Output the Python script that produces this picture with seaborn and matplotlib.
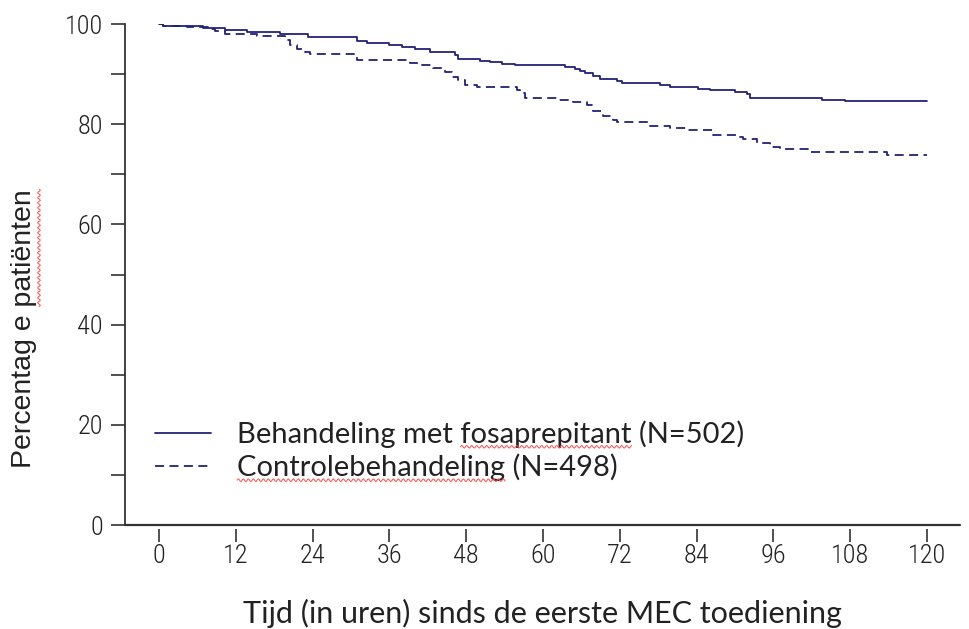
import numpy as np
import pandas as pd
import matplotlib
matplotlib.use('Agg')
import matplotlib.pyplot as plt
from matplotlib import font_manager as fm
from matplotlib.transforms import IdentityTransform
from matplotlib.lines import Line2D
import seaborn as sns

# ============================================
# DATA
# ============================================
fosa_hours = [0, 0.6, 6.9, 10.3, 13.7, 18.9, 23.3, 31, 32.5, 36, 38, 40, 42.3,
              46.3, 46.8, 50.2, 51.7, 53.6, 55.6, 63.4, 65, 65.8, 66.6, 67.8,
              68.9, 71.5, 72.3, 78.3, 79.8, 84.2, 86.1, 90, 91.9, 92.3, 103.6,
              107.2, 120]
fosa_pct = [100, 99.6, 99.3, 98.8, 98.5, 98.1, 97.5, 96.7, 96.3, 95.8, 95.5,
            95.1, 94.5, 93.8, 93.1, 92.7, 92.5, 92.0, 91.8, 91.5, 91.0, 90.6,
            90.2, 89.7, 89.0, 88.6, 88.2, 87.8, 87.4, 87.1, 86.8, 86.4, 86.1,
            85.3, 84.9, 84.6, 84.6]

ctrl_hours = [0, 0.6, 4.4, 7.7, 8.8, 10.3, 15.3, 19.7, 20.5, 21.6, 22.8, 23.6,
              31, 39.2, 41.1, 42.8, 44.7, 45.8, 46.7, 47.8, 49.7, 56, 56.4,
              57.2, 62.2, 64.7, 66.9, 67.8, 69.4, 70.9, 71.6, 76.7, 79.8, 82.5,
              86.6, 90.3, 91.3, 93.4, 95.5, 97, 101.4, 113.8, 120]
ctrl_pct = [100, 99.6, 99.4, 99.1, 98.6, 98.0, 97.6, 96.8, 95.9, 95.1, 94.5,
            94.0, 92.8, 92.3, 91.8, 91.2, 90.5, 89.5, 88.8, 87.8, 87.5, 86.8,
            86.2, 85.3, 84.8, 84.4, 83.8, 82.7, 81.6, 80.8, 80.4, 79.6, 79.2,
            78.8, 77.8, 77.5, 77.0, 76.2, 75.5, 75.0, 74.5, 73.9, 73.9]

labels = ['Behandeling met fosaprepitant (N=502)', 'Controlebehandeling (N=498)']
x_ticks = list(range(0, 121, 12))
y_major = [0, 20, 40, 60, 80, 100]
y_minor = [10, 30, 50, 70, 90]

NAVY = '#22227a'
CALIBRI = ['Lato', 'DejaVu Sans']

# pick a narrow font for the tick numbers if one is installed
installed = fm.fontManager.ttflist
names = {f.name for f in installed}
tick_font = None
for cand in ['Liberation Sans Narrow', 'Arial Narrow', 'Roboto Condensed',
             'Open Sans Condensed', 'Noto Sans Condensed']:
    if cand in names:
        tick_font = fm.FontProperties(family=cand, size=19, weight='light')
        break
if tick_font is None:
    cond = [f for f in installed if f.name == 'DejaVu Sans'
            and f.stretch == 'condensed' and f.style == 'normal']
    if cond:
        tick_font = fm.FontProperties(fname=cond[0].fname, size=19)
    else:
        tick_font = fm.FontProperties(family='Liberation Sans', size=17)

sns.set_style('ticks')

fig = plt.figure(figsize=(9.69, 6.29), dpi=100)
ax = fig.add_axes([0.129, 0.1653, 0.862, 0.7965])

df_f = pd.DataFrame({'hours': fosa_hours, 'pct': fosa_pct})
df_c = pd.DataFrame({'hours': ctrl_hours, 'pct': ctrl_pct})

sns.lineplot(data=df_f, x='hours', y='pct', ax=ax, color=NAVY, lw=1.3,
             drawstyle='steps-post', label=labels[0], estimator=None)
sns.lineplot(data=df_c, x='hours', y='pct', ax=ax, color=NAVY, lw=1.3,
             drawstyle='steps-post', label=labels[1], estimator=None,
             dashes=False, linestyle=(0, (5, 3)))

ax.set_xlim(-5.3, 125.2)
ax.set_ylim(0, 100)

# x ticks hang detached below the baseline
for side in ['top', 'right']:
    ax.spines[side].set_visible(False)
ax.spines['left'].set_linewidth(1.3)
ax.spines['left'].set_color('#333333')
ax.spines['bottom'].set_position(('outward', 3))
ax.spines['bottom'].set_visible(False)
ax.axhline(0, color='#333333', lw=1.6, clip_on=False, zorder=3)

ax.set_xticks(x_ticks)
ax.set_yticks(y_major)
ax.set_yticks(y_minor, minor=True)
ax.tick_params(axis='y', which='both', length=10, width=1.2, color='#333333', pad=6)
ax.tick_params(axis='x', length=9, width=1.2, color='#333333', pad=2)
for lab in ax.get_xticklabels() + ax.get_yticklabels():
    lab.set_fontproperties(tick_font)
    lab.set_color('#222222')

ax.set_xlabel('Tijd (in uren) sinds de eerste MEC toediening',
              family=CALIBRI, fontsize=22, color='#222222', labelpad=22)
ax.set_ylabel('Percentag e patiënten', family=['Liberation Sans', 'DejaVu Sans'],
              fontsize=20.5, color='#222222')
ax.yaxis.set_label_coords(-0.1054, 0.392)

leg = ax.legend(loc='lower left', bbox_to_anchor=(0.005, 0.035), frameon=False,
                prop={'family': CALIBRI, 'size': 21}, handlelength=1.9,
                handletextpad=0.9, labelspacing=0.2)
for t in leg.get_texts():
    t.set_color('#222222')

# spell-check squiggles under some words, as in the reference
fig.canvas.draw()
rend = fig.canvas.get_renderer()


def squiggle(txt, prefix, word, vertical=False):
    bb = txt.get_window_extent(rend)
    tmp = fig.text(0, 0, prefix, fontproperties=txt.get_fontproperties())
    w0 = tmp.get_window_extent(rend).width if prefix else 0
    tmp.set_text(prefix + word)
    w1 = tmp.get_window_extent(rend).width
    tmp.remove()
    n = int(w1 - w0)
    s = np.linspace(0, w1 - w0, max(n, 2))
    wave = 1.4 * np.sin(s * np.pi / 2.5)
    if vertical:
        xs = bb.x1 + 2 + wave
        ys = bb.y0 + w0 + s
    else:
        xs = bb.x0 + w0 + s
        ys = bb.y0 + 1 + wave
    fig.add_artist(Line2D(xs, ys, transform=IdentityTransform(),
                          color='#ff4d4d', lw=0.7))


texts = leg.get_texts()
squiggle(texts[0], 'Behandeling met ', 'fosaprepitant')
squiggle(texts[1], '', 'Controlebehandeling')
squiggle(ax.yaxis.label, 'Percentag e ', 'patiënten', vertical=True)

fig.savefig('out.png', dpi=100)
